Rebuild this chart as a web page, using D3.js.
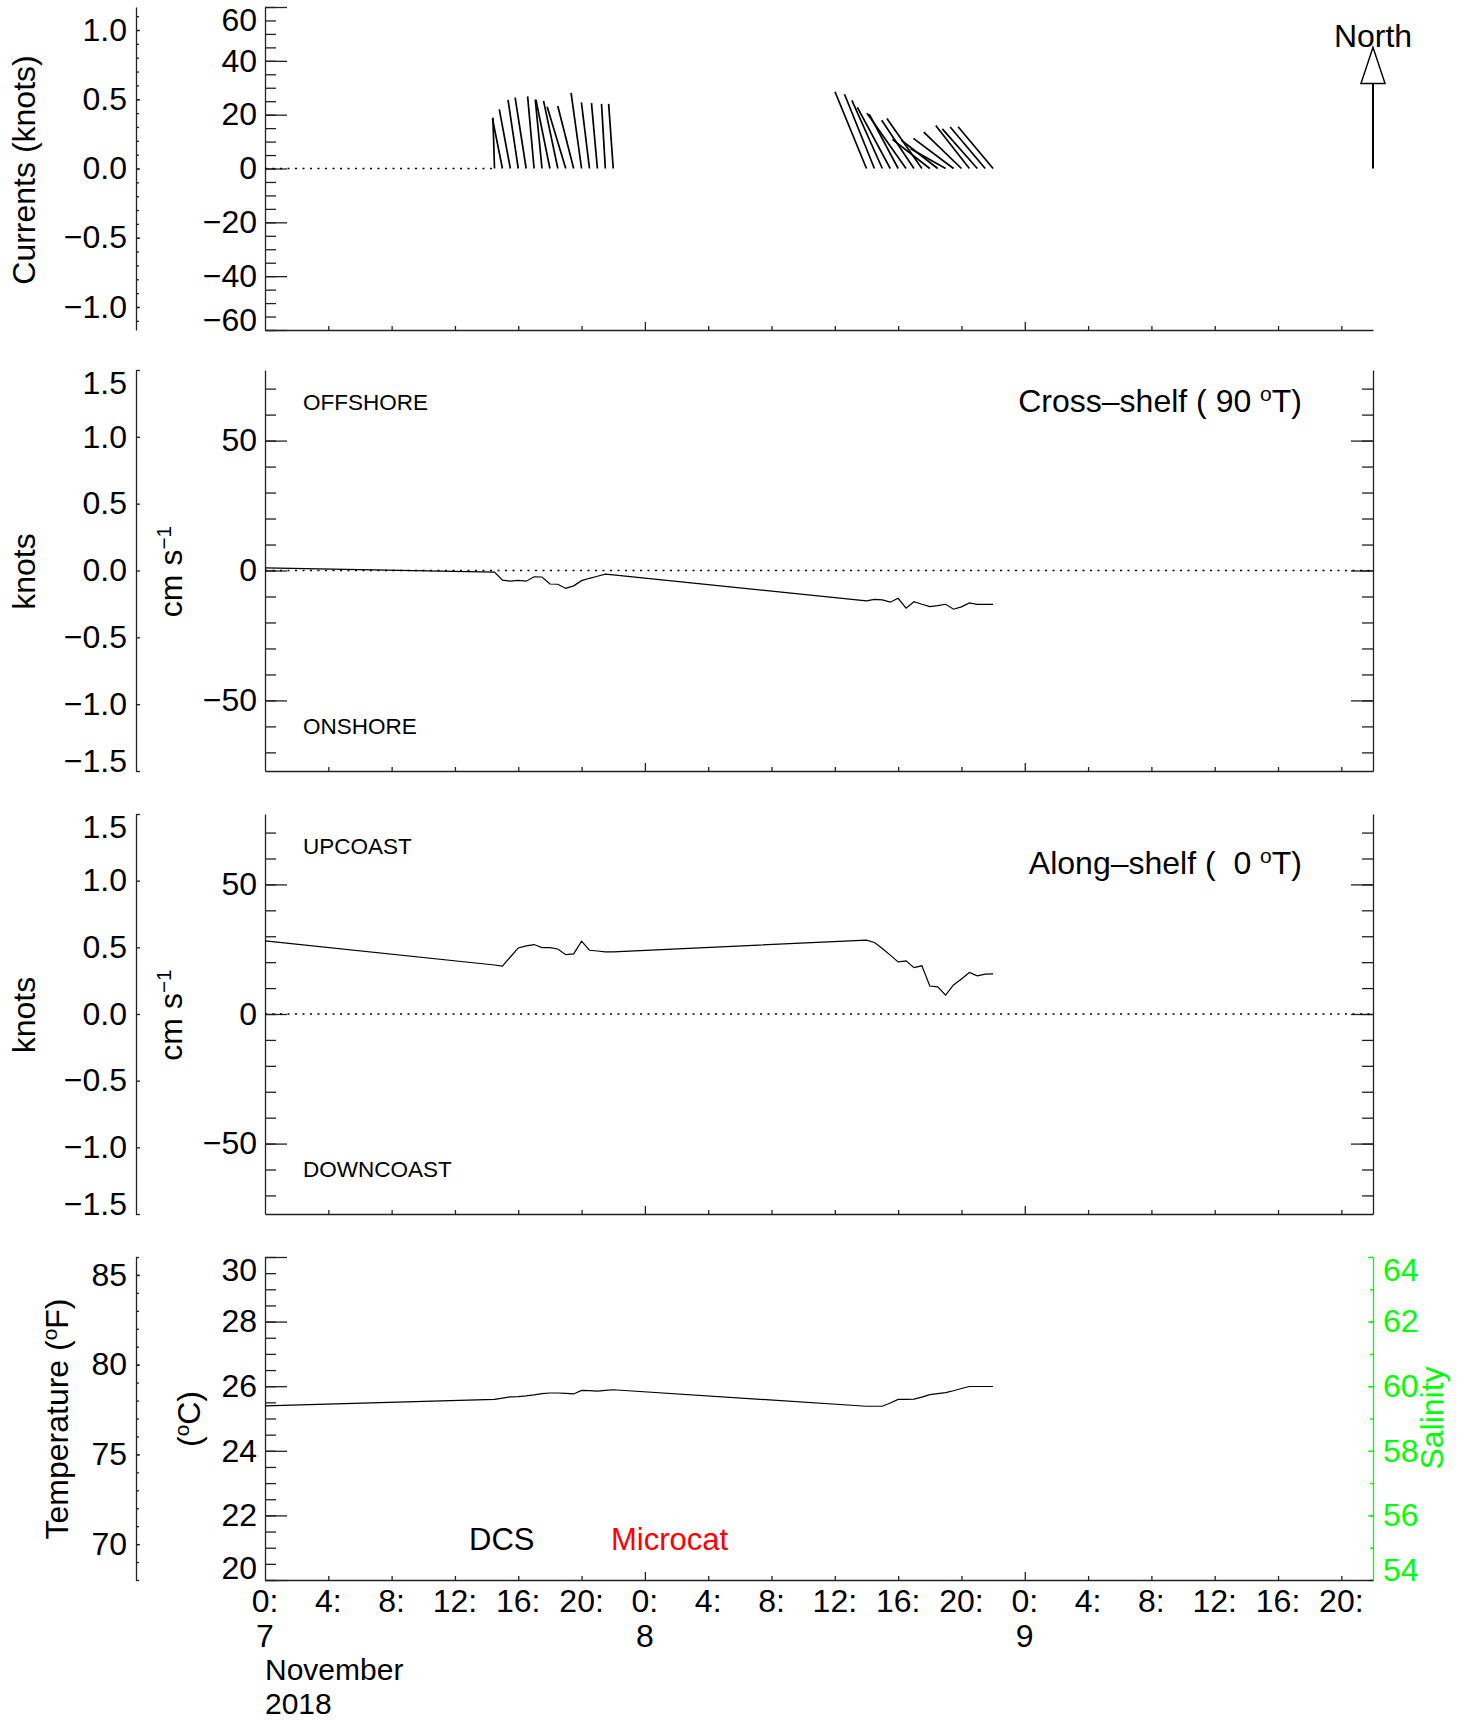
<!DOCTYPE html>
<html lang="en">
<head>
<meta charset="utf-8">
<title>Currents and temperature, 7-9 November 2018</title>
<script src="https://cdn.jsdelivr.net/npm/d3@7"></script>
<style>
  body { margin: 0; background: #fff; }
  svg text { font-family: "Liberation Sans", Arial, Helvetica, sans-serif; fill: #000; }
</style>
</head>
<body>
<script>
// hours since 2018-11-07 00:00
var hours = [0,
  14.5, 15, 15.5, 16, 16.5, 17, 17.5, 18, 18.5, 19, 19.5, 20, 20.5, 21, 21.5, 22,
  38, 38.5, 39, 39.5, 40, 40.5, 41, 41.5, 42, 42.5, 43, 43.5, 44, 44.5, 45, 45.5, 46];
// cross-shelf (90 T) component, cm/s
var crossShelf = [1.0,
  -0.6, -3.7, -4.1, -3.8, -4.1, -2.4, -2.5, -5.2, -5.3, -6.9, -5.9, -3.9, -3.0, -2.2, -1.4, -1.7,
  -11.7, -11.1, -11.3, -12.2, -10.7, -14.5, -12.0, -13.0, -13.9, -13.5, -13.0, -14.9, -14.0, -12.5, -13.0, -13.0, -13.0];
// along-shelf (0 T) component, cm/s
var alongShelf = [28.2,
  18.9, 18.5, 22.0, 25.5, 26.3, 26.8, 25.6, 25.6, 25.1, 22.9, 23.2, 28.1, 24.6, 24.3, 24.0, 24.0,
  28.5, 27.6, 25.3, 22.7, 20.1, 20.5, 17.9, 18.6, 10.8, 10.5, 7.3, 11.2, 13.5, 16.0, 14.7, 15.4, 15.5];
// DCS water temperature, deg C
var tempC = [25.39,
  25.59, 25.63, 25.67, 25.68, 25.70, 25.73, 25.77, 25.79, 25.79, 25.78, 25.76, 25.87, 25.86, 25.85, 25.87, 25.89,
  25.38, 25.38, 25.38, 25.48, 25.59, 25.59, 25.60, 25.66, 25.74, 25.77, 25.80, 25.86, 25.93, 25.99, 25.99, 25.99, 25.99];

var dayLabels = ["7", "8", "9"];
var monthLabel = "November";
var yearLabel = "2018";
var hourTicks = d3.range(0, 70, 4);
var northArrowSpeed = 45;   // cm/s, length of the legend arrow

var w = 1467, h = 1721;
var left = 265, right = 1373;
var knotAxisX = 136;
var KNOT = 51.4444;          // cm/s per knot
var big = 32, small = 22.5;

var svg = d3.select("body").append("svg")
  .attr("width", w).attr("height", h);

var x = d3.scaleLinear().domain([0, 70]).range([left, right]);

// panel boxes
var p1 = {top: 7, bottom: 330};
var p2 = {top: 370, bottom: 771};
var p3 = {top: 814, bottom: 1214};
var p4 = {top: 1257, bottom: 1580};

function styleAxis(g, color) {
  color = color || "#222";
  g.selectAll("path").attr("stroke", color).attr("stroke-width", 1.3);
  g.selectAll("line").attr("stroke", color).attr("stroke-width", 1.3);
  g.selectAll("text").attr("font-size", big).attr("font-family", "Liberation Sans, Arial, sans-serif");
}

// keep end labels inside the axis range, as the original does
function clampLabels(g, scale, bottomGap) {
  var r = scale.range(), lo = Math.min(r[0], r[1]), hi = Math.max(r[0], r[1]);
  bottomGap = bottomGap || 10;
  g.selectAll(".tick text").attr("y", function(d) {
    var yy = scale(d);
    if (yy - lo < 13) return 13 - (yy - lo);
    if (hi - yy < bottomGap) return -(bottomGap - (hi - yy));
    return 0;
  });
}

function vAxis(xpos, scale, majors, minors, majLen, minLen, fmt, side, color, pad, bottomGap) {
  var mk = side === "left" ? d3.axisLeft : d3.axisRight;
  var gMin = svg.append("g").attr("transform", "translate(" + xpos + ",0)")
    .call(mk(scale).tickValues(minors).tickSize(-minLen).tickSizeOuter(0).tickFormat(""));
  gMin.select(".domain").remove();
  styleAxis(gMin, color);
  var gMaj = svg.append("g").attr("transform", "translate(" + xpos + ",0)")
    .call(mk(scale).tickValues(majors).tickSize(-majLen).tickSizeOuter(0)
      .tickPadding(pad || 8).tickFormat(fmt || ""));
  styleAxis(gMaj, color);
  if (color) gMaj.selectAll("text").attr("fill", color).style("fill", color);
  clampLabels(gMaj, scale, bottomGap);
  return gMaj;
}

function timeAxis(ybottom) {
  var g = svg.append("g").attr("transform", "translate(0," + ybottom + ")")
    .call(d3.axisBottom(x).tickValues(hourTicks.filter(function(d) { return d % 24; }))
      .tickSize(-4).tickSizeOuter(0).tickFormat(""));
  styleAxis(g);
  var g2 = svg.append("g").attr("transform", "translate(0," + ybottom + ")")
    .call(d3.axisBottom(x).tickValues([24, 48]).tickSize(-8).tickSizeOuter(0).tickFormat(""));
  g2.select(".domain").remove();
  styleAxis(g2);
}

function dotted(y, x0, x1) {
  svg.append("line").attr("x1", x0).attr("x2", x1).attr("y1", y).attr("y2", y)
    .attr("stroke", "#000").attr("stroke-width", 1.3).attr("stroke-dasharray", "2,5.5");
}

function rotLabel(bx, cy, parts, color) {
  var t = svg.append("text").attr("transform", "translate(" + bx + "," + cy + ") rotate(-90)")
    .attr("text-anchor", "middle").attr("font-size", big);
  if (color) t.style("fill", color);
  parts.forEach(function(p) {
    var s = t.append("tspan").text(p.t);
    if (p.sup) s.attr("font-size", big * 0.65).attr("baseline-shift", "super");
  });
  return t;
}

var knotFmt = d3.format(".1f");

// ---------- panel 1: stick plot ----------
var y1 = d3.scaleLinear().domain([-60, 60]).range([p1.bottom, p1.top]);
var k1 = d3.scaleLinear().domain([-60 / KNOT, 60 / KNOT]).range([p1.bottom, p1.top]);
vAxis(left, y1, d3.range(-60, 61, 20), d3.range(-60, 61, 5), 22, 11, d3.format("d"), "left");
vAxis(knotAxisX, k1, [-1, -0.5, 0, 0.5, 1], d3.range(-11, 12).map(function(d) { return d / 10; }), 4, 3, knotFmt, "left", null, 9);
timeAxis(p1.bottom);
rotLabel(35, 170, [{t: "Currents (knots)"}]);

dotted(y1(0), x(hours[0]), x(hours[1]));
var pxPerCm = y1(0) - y1(1);
// the first record has no stick in the original plot
svg.append("g").selectAll("line").data(d3.range(1, hours.length)).enter().append("line")
  .attr("x1", function(i) { return x(hours[i]); })
  .attr("y1", y1(0))
  .attr("x2", function(i) { return x(hours[i]) + crossShelf[i] * pxPerCm; })
  .attr("y2", function(i) { return y1(alongShelf[i]); })
  .attr("stroke", "#000").attr("stroke-width", 1.7);

// north legend arrow
var ax = x(70), tipY = y1(northArrowSpeed), headBase = tipY + 36;
svg.append("text").attr("x", ax).attr("y", 47).attr("text-anchor", "middle")
  .attr("font-size", big).text("North");
svg.append("line").attr("x1", ax).attr("x2", ax).attr("y1", y1(0)).attr("y2", headBase)
  .attr("stroke", "#000").attr("stroke-width", 2);
svg.append("path")
  .attr("d", "M" + (ax - 12) + "," + headBase + "L" + ax + "," + tipY + "L" + (ax + 12) + "," + headBase + "Z")
  .attr("fill", "#fff").attr("stroke", "#000").attr("stroke-width", 1.5);

// ---------- panels 2 and 3: components ----------
function componentPanel(p, values, title, upper, lower) {
  var y = d3.scaleLinear().domain([-1.5 * KNOT, 1.5 * KNOT]).range([p.bottom, p.top]);
  var kn = d3.scaleLinear().domain([-1.5, 1.5]).range([p.bottom, p.top]);
  var minors = d3.range(-70, 71, 10);
  vAxis(left, y, [-50, 0, 50], minors, 22, 11, d3.format("d"), "left");
  vAxis(right, y, [-50, 0, 50], minors, 22, 11, null, "right");
  vAxis(knotAxisX, kn, d3.range(-1.5, 1.51, 0.5), [], 4, 3, knotFmt, "left", null, 9);
  timeAxis(p.bottom);
  dotted(y(0), left, right);

  var line = d3.line().x(function(d, i) { return x(hours[i]); }).y(function(d) { return y(d); });
  svg.append("path").datum(values).attr("d", line)
    .attr("fill", "none").attr("stroke", "#000").attr("stroke-width", 1.2);

  var mid = (p.top + p.bottom) / 2;
  rotLabel(35, mid + 1, [{t: "knots"}]);
  rotLabel(182, mid + 1, [{t: "cm s"}, {t: "\u22121", sup: true}]);

  svg.append("text").attr("x", 303).attr("y", p.top + 40).attr("font-size", small).text(upper);
  svg.append("text").attr("x", 303).attr("y", p.bottom - 37).attr("font-size", small).text(lower);

  var t = svg.append("text").attr("x", 1302).attr("y", title.y).attr("text-anchor", "end")
    .attr("font-size", big).attr("xml:space", "preserve").style("white-space", "pre");
  t.append("tspan").text(title.a);
  t.append("tspan").attr("font-size", 21).attr("baseline-shift", "super").text("o");
  t.append("tspan").text("T)");
}

componentPanel(p2, crossShelf, {a: "Cross\u2013shelf ( 90 ", y: 412}, "OFFSHORE", "ONSHORE");
componentPanel(p3, alongShelf, {a: "Along\u2013shelf (  0 ", y: 874}, "UPCOAST", "DOWNCOAST");

// ---------- panel 4: temperature ----------
var yC = d3.scaleLinear().domain([20, 30]).range([p4.bottom, p4.top]);
var yF = d3.scaleLinear().domain([68, 86]).range([p4.bottom, p4.top]);
var yS = d3.scaleLinear().domain([54, 64]).range([p4.bottom, p4.top]);
vAxis(left, yC, d3.range(20, 31, 2), d3.range(20, 30.01, 0.5), 22, 11, d3.format("d"), "left", null, 8, 12);
vAxis(knotAxisX, yF, [70, 75, 80, 85], d3.range(68, 87, 1), 4, 3, d3.format("d"), "left", null, 9);
vAxis(right, yS, d3.range(54, 65, 2), d3.range(54, 65, 1), 5, 3, d3.format("d"), "right", "#00ff00", 10);
timeAxis(p4.bottom);

svg.append("path").datum(tempC)
  .attr("d", d3.line().x(function(d, i) { return x(hours[i]); }).y(function(d) { return yC(d); }))
  .attr("fill", "none").attr("stroke", "#000").attr("stroke-width", 1.2);

rotLabel(68, 1419, [{t: "Temperature ("}, {t: "o", sup: true}, {t: "F)"}]);
rotLabel(200, 1419, [{t: "("}, {t: "o", sup: true}, {t: "C)"}]);
rotLabel(1443, 1418, [{t: "Salinity"}], "#00ff00");

svg.append("text").attr("x", 469).attr("y", 1550).attr("font-size", 31).text("DCS");
svg.append("text").attr("x", 611).attr("y", 1550).attr("font-size", 31).style("fill", "#ff0000").text("Microcat");

// time labels
svg.append("g").selectAll("text").data(hourTicks).enter().append("text")
  .attr("x", function(d) { return x(d); }).attr("y", 1612)
  .attr("text-anchor", "middle").attr("font-size", big)
  .text(function(d) { return (d % 24) + ":"; });
svg.append("g").selectAll("text").data(dayLabels).enter().append("text")
  .attr("x", function(d, i) { return x(i * 24); }).attr("y", 1647)
  .attr("text-anchor", "middle").attr("font-size", big)
  .text(function(d) { return d; });
svg.append("text").attr("x", left).attr("y", 1680).attr("font-size", 30).text(monthLabel);
svg.append("text").attr("x", left).attr("y", 1714).attr("font-size", 30).text(yearLabel);
</script>
</body>
</html>
